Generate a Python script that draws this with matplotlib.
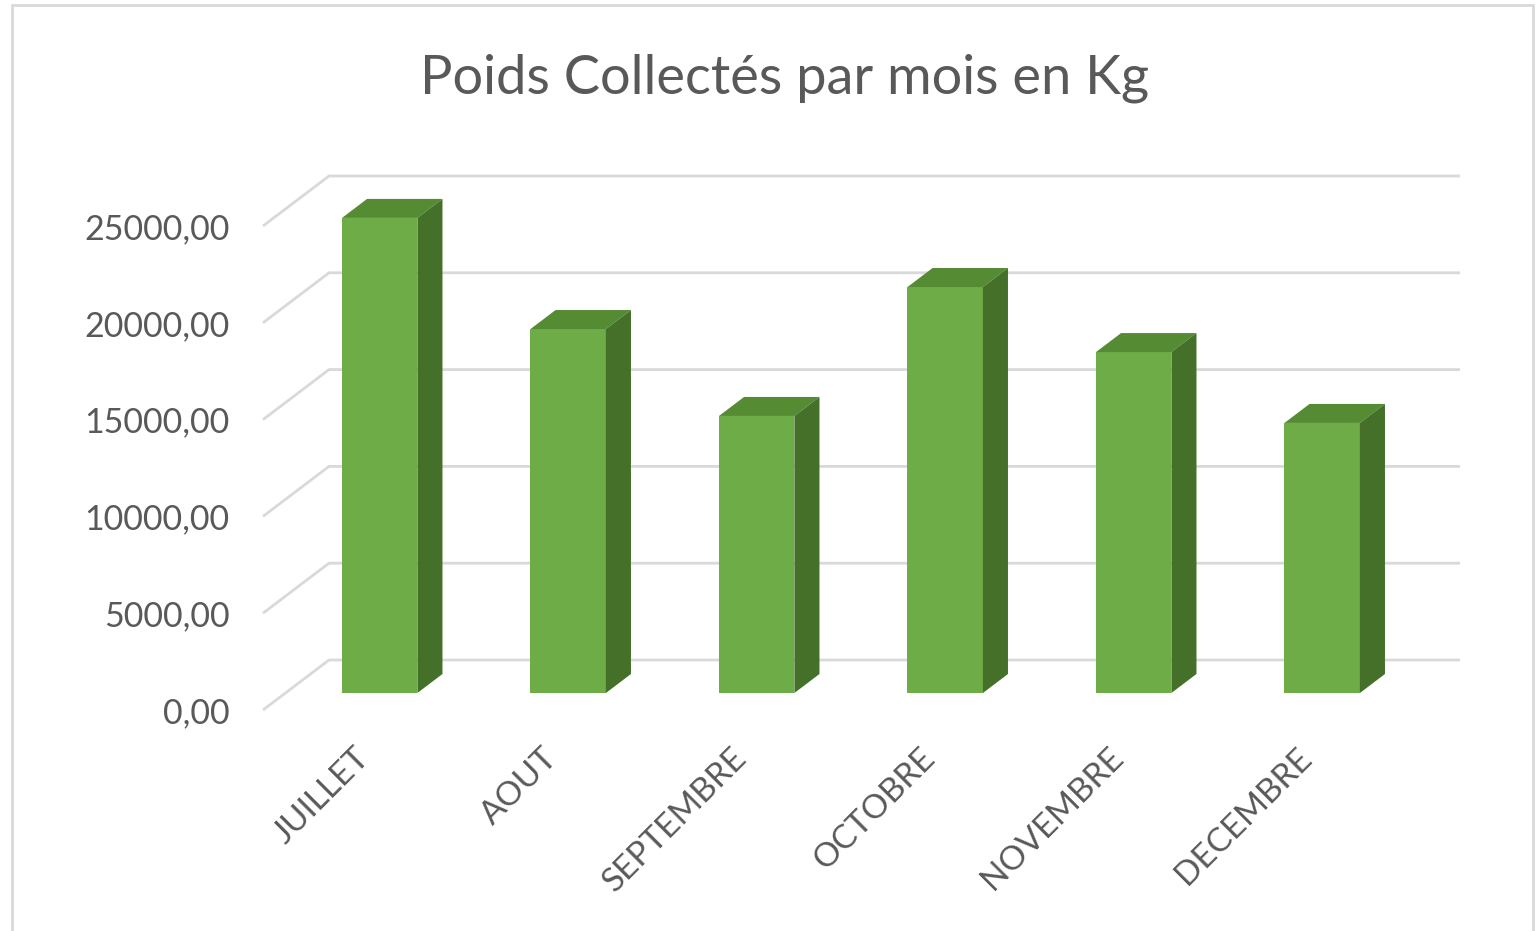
import matplotlib
matplotlib.use("Agg")
import numpy as np
import matplotlib.pyplot as plt
from matplotlib.patches import Polygon, Rectangle
from matplotlib.ticker import FuncFormatter

months = ["JUILLET", "AOUT", "SEPTEMBRE", "OCTOBRE", "NOVEMBRE", "DECEMBRE"]
weights = [24540, 18800, 14310, 20970, 17610, 13950]
yticks = [0, 5000, 10000, 15000, 20000, 25000]
title = "Poids Collectés par mois en Kg"

plt.rcParams["font.family"] = ["Lato", "DejaVu Sans"]
TXT = "#595959"
GRID = "#D9D9D9"
FRONT = "#6DAC46"
TOP = "#558B33"
SIDE = "#44702A"

W, H = 1537, 931
fig = plt.figure(figsize=(W / 100, H / 100), dpi=100)
fig.patch.set_facecolor("white")
ax = fig.add_axes([263 / W, (H - 710) / H, 1131 / W, 484 / H])
ax.set_xlim(-0.5, 5.5)
ax.set_ylim(0, 25000)
for s in ax.spines.values():
    s.set_visible(False)
ax.patch.set_alpha(0)

DX = 66 / 188.5
DY = 50 / 484 * 25000
f0, fd = 0.34, 0.38
ox, oy = f0 * DX, f0 * DY
bx, by = fd * DX, fd * DY

# gridlines (side wall + back wall)
for v in yticks:
    ax.plot([-0.5, -0.5 + DX, 5.5 + DX], [v, v + DY, v + DY],
            color=GRID, lw=2, clip_on=False, zorder=1, solid_capstyle="butt")

x = np.arange(len(months))
bw = 0.4
bars = ax.bar(x + ox, weights, width=bw, bottom=oy, color=FRONT,
              zorder=3, clip_on=False, linewidth=0)
for xi, v in zip(x, weights):
    l = xi + ox - bw / 2
    r = xi + ox + bw / 2
    top = Polygon([(l, oy + v), (r, oy + v), (r + bx, oy + v + by), (l + bx, oy + v + by)],
                  closed=True, fc=TOP, ec="none", zorder=3, clip_on=False)
    side = Polygon([(r, oy), (r + bx, oy + by), (r + bx, oy + v + by), (r, oy + v)],
                   closed=True, fc=SIDE, ec="none", zorder=3, clip_on=False)
    ax.add_patch(top)
    ax.add_patch(side)

ax.set_yticks(yticks)
ax.yaxis.set_major_formatter(FuncFormatter(lambda v, p: f"{v:.2f}".replace(".", ",")))
ax.tick_params(axis="y", length=0, pad=24, labelsize=24.5, labelcolor=TXT)

ax.set_xticks(x + 0.04)
ax.set_xticklabels(months)
ax.tick_params(axis="x", length=0, pad=31, labelsize=24, labelcolor=TXT)
for lab in ax.get_xticklabels():
    lab.set_rotation(45)
    lab.set_ha("right")
    lab.set_va("center")
    lab.set_rotation_mode("anchor")

fig.text(785 / W, 1 - 78 / H, title, ha="center", va="center",
         fontsize=39, color=TXT)

fig.add_artist(Rectangle((12 / W, -0.02), (1533 - 12) / W, (H - 5) / H + 0.02,
                         transform=fig.transFigure, fill=False, ec=GRID, lw=2))

fig.savefig("out.png", dpi=100)
